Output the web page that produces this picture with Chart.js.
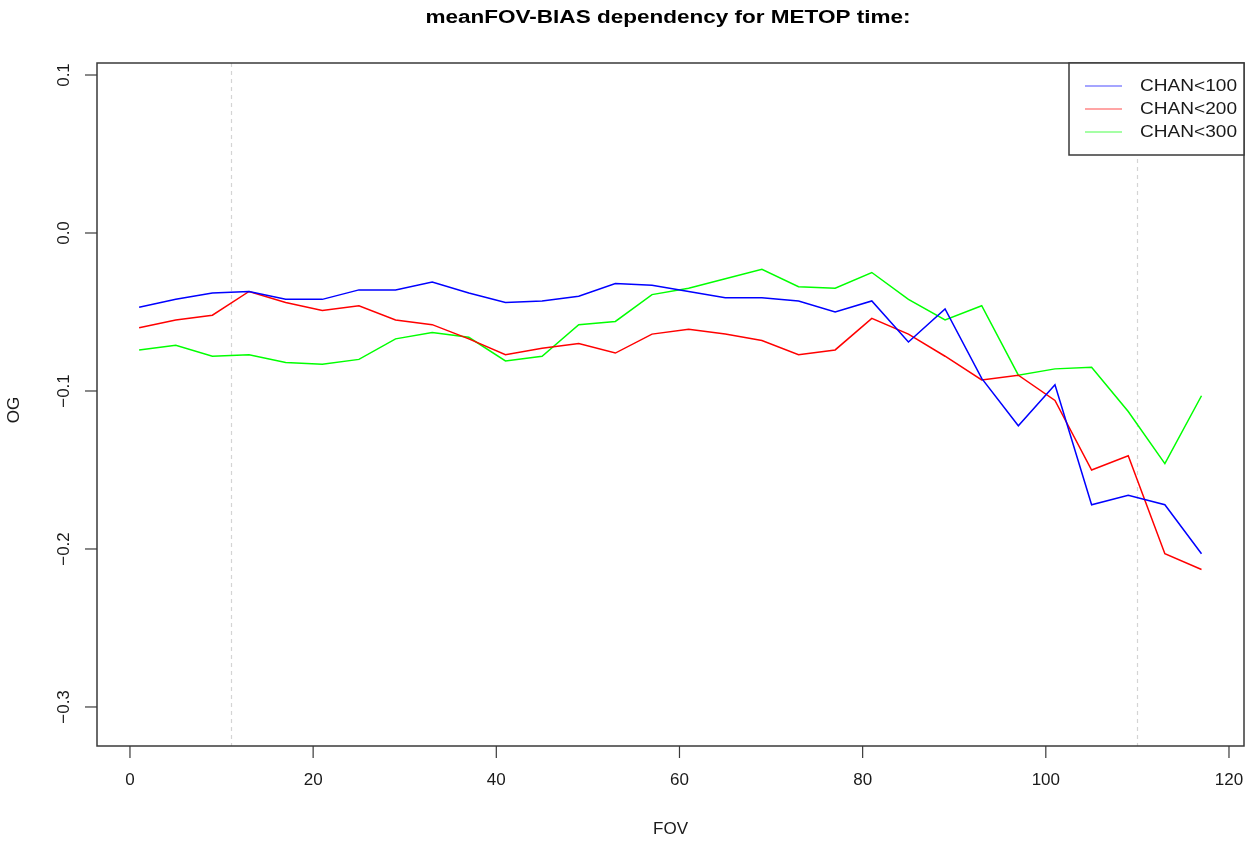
<!DOCTYPE html>
<html>
<head>
<meta charset="utf-8">
<script src="https://cdn.jsdelivr.net/npm/chart.js@4/dist/chart.umd.min.js"></script>
<style>
  html, body { margin: 0; padding: 0; background: #ffffff; }
  #wrap { width: 1256px; height: 843px; }
</style>
</head>
<body>
<div id="wrap"><canvas id="c" width="1256" height="843"></canvas></div>
<script>
// Field-of-view positions and mean O-G bias per channel group
const fov = [1, 5, 9, 13, 17, 21, 25, 29, 33, 37, 41, 45, 49, 53, 57,
             61, 65, 69, 73, 77, 81, 85, 89, 93, 97, 101, 105, 109, 113, 117];

const chan100 = [-0.047, -0.042, -0.038, -0.037, -0.042, -0.042, -0.036, -0.036, -0.031, -0.038,
                 -0.044, -0.043, -0.040, -0.032, -0.033, -0.037, -0.041, -0.041, -0.043, -0.050,
                 -0.043, -0.069, -0.048, -0.092, -0.122, -0.096, -0.172, -0.166, -0.172, -0.203];

const chan200 = [-0.060, -0.055, -0.052, -0.037, -0.044, -0.049, -0.046, -0.055, -0.058, -0.067,
                 -0.077, -0.073, -0.070, -0.076, -0.064, -0.061, -0.064, -0.068, -0.077, -0.074,
                 -0.054, -0.064, -0.078, -0.093, -0.090, -0.106, -0.150, -0.141, -0.203, -0.213];

const chan300 = [-0.074, -0.071, -0.078, -0.077, -0.082, -0.083, -0.080, -0.067, -0.063, -0.066,
                 -0.081, -0.078, -0.058, -0.056, -0.039, -0.035, -0.029, -0.023, -0.034, -0.035,
                 -0.025, -0.042, -0.055, -0.046, -0.090, -0.086, -0.085, -0.113, -0.146, -0.103];

const seriesNames = ['CHAN<100', 'CHAN<200', 'CHAN<300'];
const seriesColors = ['#0000ff', '#ff0000', '#00ff00'];

const xTicks = [0, 20, 40, 60, 80, 100, 120];
const yTicks = [0.1, 0.0, -0.1, -0.2, -0.3];
const yTickLabels = ['0.1', '0.0', '\u22120.1', '\u22120.2', '\u22120.3'];
const markerFov = [11, 110];

const titleText = 'meanFOV-BIAS dependency for METOP time:';
const xLabel = 'FOV';
const yLabel = 'OG';

const FONT = '"Liberation Sans", Arial, Helvetica, sans-serif';

function toPoints(values) {
  return fov.map((x, i) => ({ x: x, y: values[i] }));
}

// draws text stretched horizontally to a given width (wide device font)
function fitText(ctx, text, x, y, width, align) {
  const w = ctx.measureText(text).width;
  const k = width / w;
  ctx.save();
  ctx.translate(x, y);
  ctx.scale(k, 1);
  ctx.textAlign = align;
  ctx.fillText(text, 0, 0);
  ctx.restore();
}

// R-style frame, ticks, labels, reference lines and legend
const basePlot = {
  id: 'basePlot',
  beforeDraw(chart) {
    const ctx = chart.ctx;
    ctx.save();
    ctx.fillStyle = '#ffffff';
    ctx.fillRect(0, 0, chart.width, chart.height);
    ctx.restore();
  },
  beforeDatasetsDraw(chart) {
    const ctx = chart.ctx;
    const a = chart.chartArea;
    const xs = chart.scales.x;
    ctx.save();
    ctx.strokeStyle = '#d4d4d4';
    ctx.lineWidth = 1.2;
    ctx.setLineDash([4, 4]);
    markerFov.forEach(v => {
      const px = Math.round(xs.getPixelForValue(v)) + 0.5;
      ctx.beginPath();
      ctx.moveTo(px, a.top);
      ctx.lineTo(px, a.bottom);
      ctx.stroke();
    });
    ctx.restore();
  },
  afterDraw(chart) {
    const ctx = chart.ctx;
    const a = chart.chartArea;
    const xs = chart.scales.x;
    const ys = chart.scales.y;
    ctx.save();

    // frame
    ctx.strokeStyle = '#3a3a3a';
    ctx.lineWidth = 1.5;
    ctx.setLineDash([]);
    ctx.strokeRect(a.left, a.top, a.right - a.left, a.bottom - a.top);

    // x axis ticks
    ctx.lineWidth = 1.2;
    ctx.fillStyle = '#1a1a1a';
    ctx.font = '17px ' + FONT;
    ctx.textAlign = 'center';
    ctx.textBaseline = 'middle';
    xTicks.forEach(v => {
      const px = xs.getPixelForValue(v);
      ctx.beginPath();
      ctx.moveTo(px, a.bottom);
      ctx.lineTo(px, a.bottom + 12);
      ctx.stroke();
      ctx.fillText(String(v), px, 780);
    });

    // y axis ticks, labels rotated as in base R
    yTicks.forEach((v, i) => {
      const py = ys.getPixelForValue(v);
      ctx.beginPath();
      ctx.moveTo(a.left - 12, py);
      ctx.lineTo(a.left, py);
      ctx.stroke();
      ctx.save();
      ctx.translate(64, py);
      ctx.rotate(-Math.PI / 2);
      ctx.fillText(yTickLabels[i], 0, 0);
      ctx.restore();
    });

    // axis titles
    ctx.fillText(xLabel, (a.left + a.right) / 2, 829);
    ctx.save();
    ctx.translate(14, 410);
    ctx.rotate(-Math.PI / 2);
    ctx.fillText(yLabel, 0, 0);
    ctx.restore();

    // main title
    ctx.font = 'bold 18px ' + FONT;
    ctx.fillStyle = '#000000';
    fitText(ctx, titleText, 668, 18, 485, 'center');

    // legend
    const lx = 1069, ly = 63, lw = a.right - 1069, lh = 92;
    ctx.fillStyle = '#ffffff';
    ctx.fillRect(lx, ly, lw, lh);
    ctx.strokeStyle = '#3a3a3a';
    ctx.lineWidth = 1.5;
    ctx.strokeRect(lx, ly, lw, lh);
    ctx.font = '17px ' + FONT;
    seriesNames.forEach((name, i) => {
      const yy = 86 + i * 23;
      ctx.strokeStyle = seriesColors[i];
      ctx.lineWidth = 1.2;
      ctx.globalAlpha = 0.7;
      ctx.beginPath();
      ctx.moveTo(1085, yy);
      ctx.lineTo(1122, yy);
      ctx.stroke();
      ctx.globalAlpha = 1;
      ctx.fillStyle = '#1a1a1a';
      fitText(ctx, name, 1140, yy, 97, 'left');
    });

    ctx.restore();
  }
};

new Chart(document.getElementById('c'), {
  type: 'line',
  data: {
    datasets: [chan100, chan200, chan300].map((vals, i) => ({
      label: seriesNames[i],
      data: toPoints(vals),
      borderColor: seriesColors[i],
      borderWidth: 1.5,
      pointRadius: 0,
      tension: 0,
      fill: false
    }))
  },
  options: {
    responsive: false,
    animation: false,
    events: [],
    layout: { padding: { left: 97, right: 12, top: 63, bottom: 97 } },
    plugins: {
      legend: { display: false },
      title: { display: false },
      tooltip: { enabled: false }
    },
    scales: {
      x: { type: 'linear', display: false, min: -3.6, max: 121.64 },
      y: { type: 'linear', display: false, min: -0.3247, max: 0.1076 }
    }
  },
  plugins: [basePlot]
});
</script>
</body>
</html>
